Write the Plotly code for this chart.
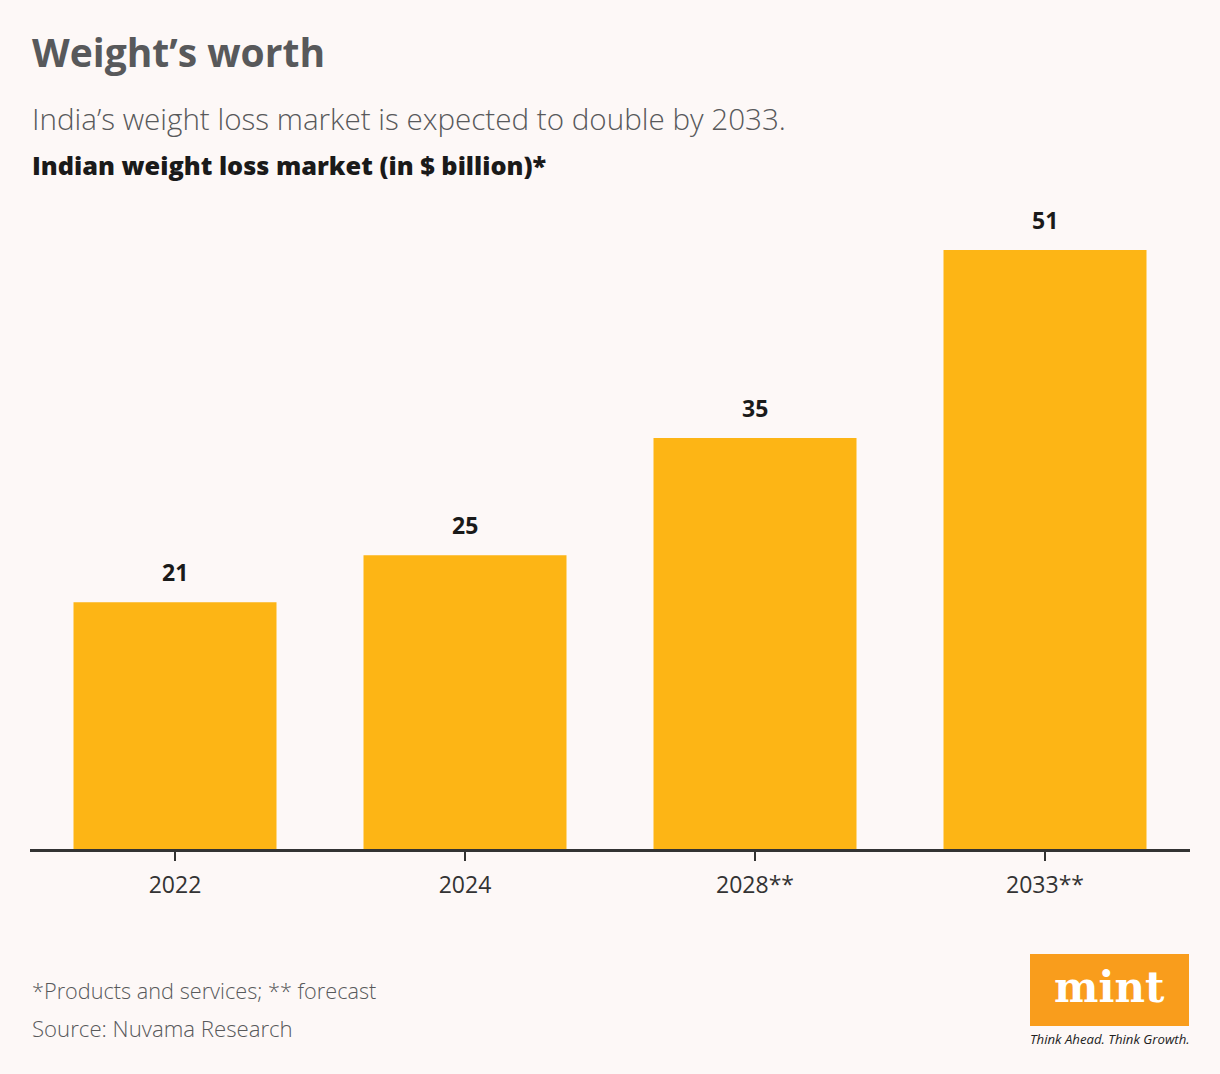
import plotly.graph_objects as go

years = ["2022", "2024", "2028**", "2033**"]
values = [21, 25, 35, 51]

BG = "#fdf8f7"
BAR = "#fdb515"

fig = go.Figure()
fig.add_trace(go.Bar(x=years, y=values, marker=dict(color=BAR, line=dict(width=0)),
                     width=0.7, hoverinfo="skip"))

for i, v in enumerate(values):
    fig.add_annotation(x=i, y=v, text=str(v), showarrow=False, yanchor="bottom", yshift=12,
                       font=dict(family="Open Sans", size=23, color="#1a1a1a", weight=700))

W, H = 1220, 1074
top, bottom = 200, 225
plot_h = H - top - bottom
px_per_unit = (849 - 250) / 51
ymax = plot_h / px_per_unit

fig.update_layout(
    width=W, height=H,
    paper_bgcolor=BG, plot_bgcolor=BG,
    margin=dict(l=30, r=30, t=top, b=bottom),
    showlegend=False,
    bargap=0.3,
    xaxis=dict(type="category", categoryorder="array", categoryarray=years,
               range=[-0.5, len(years) - 0.5],
               showline=True, linecolor="#333333", linewidth=3, ticks="outside", ticklen=9,
               tickwidth=2, tickcolor="#333333", ticklabelstandoff=4,
               tickfont=dict(family="Open Sans", size=23, color="#333333"),
               showgrid=False, zeroline=False, fixedrange=True),
    yaxis=dict(range=[0, ymax], visible=False, showgrid=False, zeroline=False, fixedrange=True),
)

def txt(x, y, text, size, color, weight=400, style="normal", xanchor="left", family="Open Sans"):
    fig.add_annotation(xref="paper", yref="paper", x=x, y=y, text=text, showarrow=False,
                       xanchor=xanchor, yanchor="middle",
                       font=dict(family=family, size=size, color=color, weight=weight, style=style))

def px_x(p):
    return (p - 30) / (W - 60)

def px_y(p):
    return (H - bottom - p) / plot_h

txt(px_x(30), px_y(52), "Weight’s worth", 39, "#58595b", weight=700)
txt(px_x(30), px_y(119), "India’s weight loss market is expected to double by 2033.", 29.6, "#58595b", weight=300)
txt(px_x(30), px_y(165), "Indian weight loss market (in $ billion)*", 25.3, "#1a1a1a", weight=800)
txt(px_x(30), px_y(990), "*Products and services; ** forecast", 21.7, "#58595b", weight=300)
txt(px_x(30), px_y(1028), "Source: Nuvama Research", 22.2, "#58595b", weight=300)

fig.add_shape(type="rect", xref="paper", yref="paper",
              x0=px_x(1030), x1=px_x(1189), y0=px_y(1026), y1=px_y(954),
              fillcolor="#f99d1c", line=dict(width=0), layer="above")
txt(px_x(1109.5), px_y(987), "<b>mint</b>", 42, "#ffffff", weight=900, xanchor="center", family="DejaVu Serif")
txt(px_x(1110), px_y(1039), "Think Ahead. Think Growth.", 13.2, "#222222", weight=400, style="italic", xanchor="center")

fig.write_html("out.html", config={"displayModeBar": False},
               post_script="document.body.style.margin='0';document.body.style.background='#fdf8f7';")
